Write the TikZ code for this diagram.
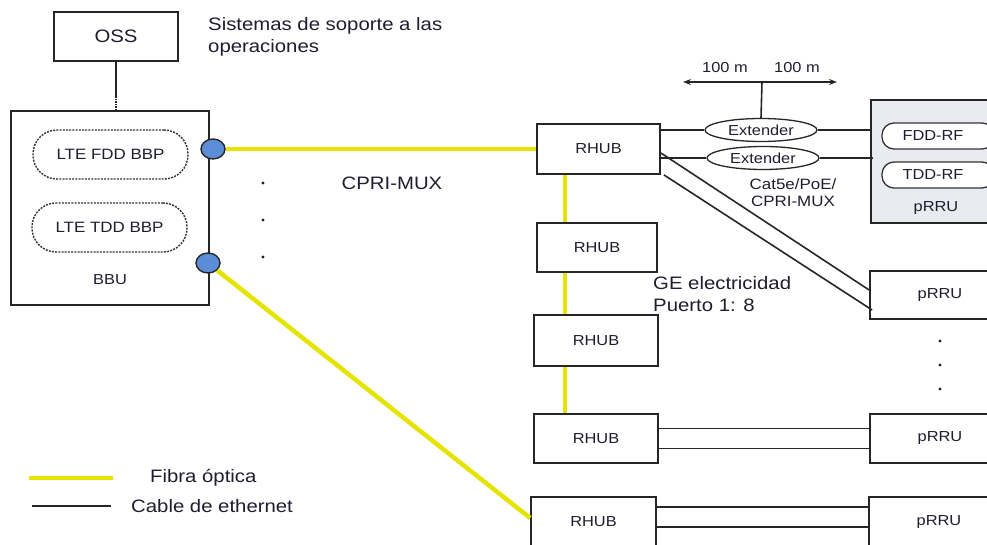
\documentclass[tikz,border=0pt]{standalone}
\usepackage{fontspec}
\setmainfont{Liberation Sans}[FakeStretch=1.13]
\usetikzlibrary{shapes.geometric,arrows.meta,calc}
\definecolor{txt}{HTML}{1E1E2E}
\definecolor{fib}{HTML}{E4E400}
\definecolor{port}{HTML}{5B8ED6}
\definecolor{rrufill}{HTML}{E8ECF1}
\tikzset{
  box/.style={draw=black!85,line width=1.8pt,fill=white,inner sep=0pt,text=txt,font=\fontsize{14.5}{16}\selectfont},
  pill/.style={draw=black!80,line width=1.3pt,rounded corners=12pt,inner sep=0pt,text=txt,font=\fontsize{14.5}{16}\selectfont},
  bbp/.style={draw=black!80,line width=1.4pt,dash pattern=on 2pt off 1.2pt,rounded corners=24pt,inner sep=0pt,text=txt,font=\fontsize{15}{17}\selectfont,minimum width=155pt,minimum height=49pt},
  ext/.style={ellipse,draw=black!85,line width=1.3pt,inner sep=0pt,text=txt,font=\fontsize{14.5}{16}\selectfont,minimum width=112pt,minimum height=23pt},
  portc/.style={ellipse,draw=black!85,line width=1.4pt,fill=port,minimum width=24pt,minimum height=20pt,inner sep=0pt},
  fiber/.style={draw=fib,line width=4.5pt},
  eth/.style={draw=black!85,line width=1.6pt},
  lbl/.style={text=txt,inner sep=0pt,font=\fontsize{18}{22}\selectfont},
  slbl/.style={text=txt,inner sep=0pt,font=\fontsize{15}{17}\selectfont},
  dotc/.style={fill=txt,draw=none,circle,minimum size=3.2pt,inner sep=0pt},
  tip/.style={-{Stealth[length=8pt,width=6pt]}}
}
\begin{document}
\begin{tikzpicture}[x=1pt,y=-1pt]
\useasboundingbox (0,0) rectangle (987,545);
\clip (0,0) rectangle (987,545);
% OSS and BBU
\node[box,font=\fontsize{18}{20}\selectfont,minimum width=124pt,minimum height=49pt] (oss) at (116,36.5) {OSS};
\node[lbl,anchor=west,align=left] (osslbl) at (208,36.5) {Sistemas de soporte a las\\operaciones};
\node[box,minimum width=198pt,minimum height=194pt] (bbu) at (110,208) {};
\node[slbl,font=\fontsize{14.5}{16}\selectfont] (bbulbl) at (110,280) {BBU};
\node[bbp] (fdd) at (110.5,154.5) {LTE FDD BBP};
\node[bbp] (tdd) at (109.5,227.5) {LTE TDD BBP};
\coordinate (ossdot) at (116,96);
\draw[eth] (oss.south) -- (ossdot);
\draw[eth,densely dotted] (ossdot) -- (oss.south |- bbu.north);
% ports
\node[portc] (c1) at (213,149) {};
\node[portc] (c2) at (208,263) {};
% dots and label
\node[dotc] (d1) at (263,183) {};
\node[dotc] (d2) at (263,220) {};
\node[dotc] (d3) at (263,257) {};
\node[lbl] (cpri) at (392,183) {CPRI-MUX};
% RHUBs
\node[box,minimum width=123pt,minimum height=50pt] (rhub1) at (598.5,149) {RHUB};
\node[box,minimum width=120pt,minimum height=49pt] (rhub2) at (597,247.5) {RHUB};
\node[box,minimum width=124pt,minimum height=51pt] (rhub3) at (596,340.5) {RHUB};
\node[box,minimum width=124pt,minimum height=49pt] (rhub4) at (596,438.5) {RHUB};
\node[box,minimum width=125pt,minimum height=50pt] (rhub5) at (593.5,522) {RHUB};
% pRRUs
\node[box,fill=rrufill,minimum width=140pt,minimum height=123pt] (prru1) at (941,161.5) {};
\node[slbl,font=\fontsize{14.5}{16}\selectfont] (prru1lbl) at (936,208) {pRRU};
\node[pill,fill=white,minimum width=112pt,minimum height=26pt] (fddrf) at (938,136) {\hspace*{-10pt}FDD-RF};
\node[pill,fill=white,minimum width=112pt,minimum height=26pt] (tddrf) at (938,175) {\hspace*{-10pt}TDD-RF};
\node[box,minimum width=140pt,minimum height=48pt] (prru2) at (940,295) {pRRU};
\node[box,minimum width=140pt,minimum height=49pt] (prru4) at (940,438.5) {pRRU};
\node[box,minimum width=140pt,minimum height=50pt] (prru5) at (939,522) {pRRU};
\node[dotc] (r1) at (940,341) {};
\node[dotc] (r2) at (940,365) {};
\node[dotc] (r3) at (940,389) {};
% extenders
\node[ext] (ext1) at (761,130) {Extender};
\node[ext] (ext2) at (763,158) {Extender};
\draw[eth] (rhub1.east |- ext1.west) -- (ext1.west);
\draw[eth] (ext1.east) -- (prru1.west |- ext1.east);
\draw[eth] (rhub1.east |- ext2.west) -- (ext2.west);
\draw[eth] (ext2.east) -- ([xshift=3pt]prru1.west |- ext2.east);
\coordinate (arr) at (762,82);
\coordinate (arrl) at (683,82);
\coordinate (arrr) at (837,82);
\draw[eth] (ext1.north) -- (arr);
\draw[eth,tip] (arr) -- (arrl);
\draw[eth,tip] (arr) -- (arrr);
\node[slbl,font=\fontsize{14.5}{16}\selectfont] (m1) at (725,68) {100 m};
\node[slbl,font=\fontsize{14.5}{16}\selectfont] (m2) at (797,68) {100 m};
\node[slbl,align=center,font=\fontsize{15}{17}\selectfont] (cat) at (793,193) {Cat5e/PoE/\\CPRI-MUX};
% diagonal ethernet
\draw[eth] ([yshift=-4pt]rhub1.east) -- ([yshift=5pt]prru2.west);
\draw[eth] ([xshift=3pt]rhub1.south east) -- ([xshift=3pt,yshift=-15pt]prru2.west);
\node[lbl,anchor=west,align=left] (ge) at (653,294) {GE electricidad\\Puerto 1: 8};
% horizontal ethernet pairs
\draw[eth] ([yshift=10pt]rhub4.east) -- ([yshift=10pt]prru4.west);
\draw[eth] ([yshift=-10pt]rhub4.east) -- ([yshift=-10pt]prru4.west);
\draw[eth] ([yshift=15pt]rhub5.east) -- ([yshift=15pt]prru5.west);
\draw[eth] ([yshift=-5pt]rhub5.east) -- ([yshift=-5pt]prru5.west);
% fibers
\coordinate (yx) at (565,0);
\draw[fiber] (c1) -- (rhub1.west);
\draw[fiber] (c2) -- ([yshift=4pt]rhub5.west);
\draw[fiber] (rhub1.south -| yx) -- (rhub2.north -| yx);
\draw[fiber] (rhub2.south -| yx) -- (rhub3.north -| yx);
\draw[fiber] (rhub3.south -| yx) -- (rhub4.north -| yx);
% legend
\coordinate (lf1) at (29,478);
\coordinate (lf2) at (113,478);
\coordinate (le1) at (32,506);
\coordinate (le2) at (111,506);
\draw[fiber,line width=4pt] (lf1) -- (lf2);
\draw[eth] (le1) -- (le2);
\node[lbl,anchor=west] (lgf) at (150,478) {Fibra óptica};
\node[lbl,anchor=west] (lge) at (131,506) {Cable de ethernet};
\end{tikzpicture}
\end{document}
